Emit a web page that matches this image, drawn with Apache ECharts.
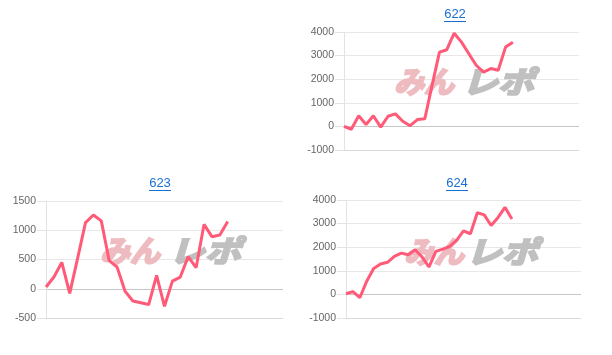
<!DOCTYPE html>
<html><head><meta charset="utf-8">
<script src="https://cdn.jsdelivr.net/npm/echarts@6/dist/echarts.min.js"></script>
<style>html,body{margin:0;padding:0;background:#fff}#c{width:612px;height:355px}</style>
</head><body><div id="c"></div>
<script>
const titles = ['622', '623', '624'];
const cats622 = ['1','2','3','4','5','6','7','8','9','10','11','12','13','14','15','16','17','18','19','20','21','22','23','24','25','26','27','28','29','30','31','32','33'];
const vals622 = [0, -120, 450, 80, 450, -30, 430, 530, 220, 30, 290, 320, 1750, 3150, 3250, 3950, 3570, 3080, 2590, 2300, 2450, 2380, 3360, 3570];
const cats623 = ['1','2','3','4','5','6','7','8','9','10','11','12','13','14','15','16','17','18','19','20','21','22','23','24','25','26','27','28','29','30','31'];
const vals623 = [30, 200, 450, -80, 520, 1130, 1260, 1160, 480, 370, -40, -210, -240, -270, 230, -300, 130, 200, 550, 360, 1100, 890, 920, 1150];
const cats624 = ['1','2','3','4','5','6','7','8','9','10','11','12','13','14','15','16','17','18','19','20','21','22','23','24','25','26','27','28','29','30','31','32','33','34','35'];
const vals624 = [30, 120, -140, 560, 1100, 1290, 1360, 1610, 1750, 1680, 1890, 1590, 1160, 1820, 1920, 2030, 2290, 2690, 2570, 3460, 3370, 2920, 3260, 3690, 3190];
const yTicks622 = [-1000, 4000, 1000];
const yTicks623 = [-500, 1500, 500];
const yTicks624 = [-1000, 4000, 1000];
const logoA = 'みん';
const logoB = 'レポ';

const chart = echarts.init(document.getElementById('c'), null, {renderer: 'canvas'});

const grids = [
  {left: 344, right: 33, top: 32, bottom: 205},
  {left: 46, right: 329, top: 201, bottom: 37},
  {left: 346, right: 31, top: 200, bottom: 37}
];
const cats = [cats622, cats623, cats624];
const vals = [vals622, vals623, vals624];
const yt = [yTicks622, yTicks623, yTicks624];
const titlePos = [[455, 21], [160, 190], [457, 190]];
const logoPos = [[394, 462, 82], [100, 169, 251], [404, 466, 252]];

const splitColors = ['#d8d8d8', '#c6c6c6', '#e8e8e8', '#e8e8e8', '#e8e8e8', '#e8e8e8'];

const graphic = [];
titlePos.forEach((p, i) => {
  graphic.push({type: 'text', x: p[0], y: p[1], z: 10,
    style: {text: titles[i], fill: '#1a6fd4', font: '13px "Liberation Sans", Arial, sans-serif', align: 'center', verticalAlign: 'bottom'}});
  graphic.push({type: 'line', z: 10, shape: {x1: p[0] - 11, y1: p[1] + 0.5, x2: p[0] + 11, y2: p[1] + 0.5},
    style: {stroke: '#1a6fd4', lineWidth: 1}});
});
logoPos.forEach(p => {
  graphic.push({type: 'text', x: p[0], y: p[2], z: 1,
    style: {text: logoA, fill: '#eebcc0', stroke: '#eebcc0', lineWidth: 2.2, fontFamily: 'Noto Sans CJK JP', fontSize: 30, fontWeight: 'bold', fontStyle: 'italic', align: 'left', verticalAlign: 'middle'}});
  graphic.push({type: 'text', x: p[1], y: p[2], z: 1, scaleX: 1.2,
    style: {text: logoB, fill: '#c0c0c0', stroke: '#c0c0c0', lineWidth: 2.2, fontFamily: 'Noto Sans CJK JP', fontSize: 30, fontWeight: 'bold', fontStyle: 'italic', align: 'left', verticalAlign: 'middle'}});
});

const option = {
  animation: false,
  backgroundColor: '#fff',
  grid: grids,
  xAxis: cats.map((c, i) => ({
    type: 'category', gridIndex: i, data: c, boundaryGap: false,
    axisLine: {show: false}, axisTick: {show: false}, axisLabel: {show: false}, splitLine: {show: false}
  })),
  yAxis: yt.map((t, i) => ({
    type: 'value', gridIndex: i, min: t[0], max: t[1], interval: t[2],
    axisLine: {show: true, lineStyle: {color: '#e3e3e3'}},
    axisTick: {show: true, length: 9, lineStyle: {color: '#e3e3e3'}},
    axisLabel: {color: '#666', fontSize: 10.5, fontFamily: '"Liberation Sans", Arial, sans-serif', margin: 10,
      formatter: v => String(v)},
    splitLine: {show: true, lineStyle: {color: splitColors}}
  })),
  series: vals.map((v, i) => ({
    type: 'line', xAxisIndex: i, yAxisIndex: i, data: v, showSymbol: false, symbol: 'none',
    smooth: false, z: 3,
    lineStyle: {color: '#ff5a78', width: 3}
  })),
  graphic: graphic
};
chart.setOption(option);
</script></body></html>
